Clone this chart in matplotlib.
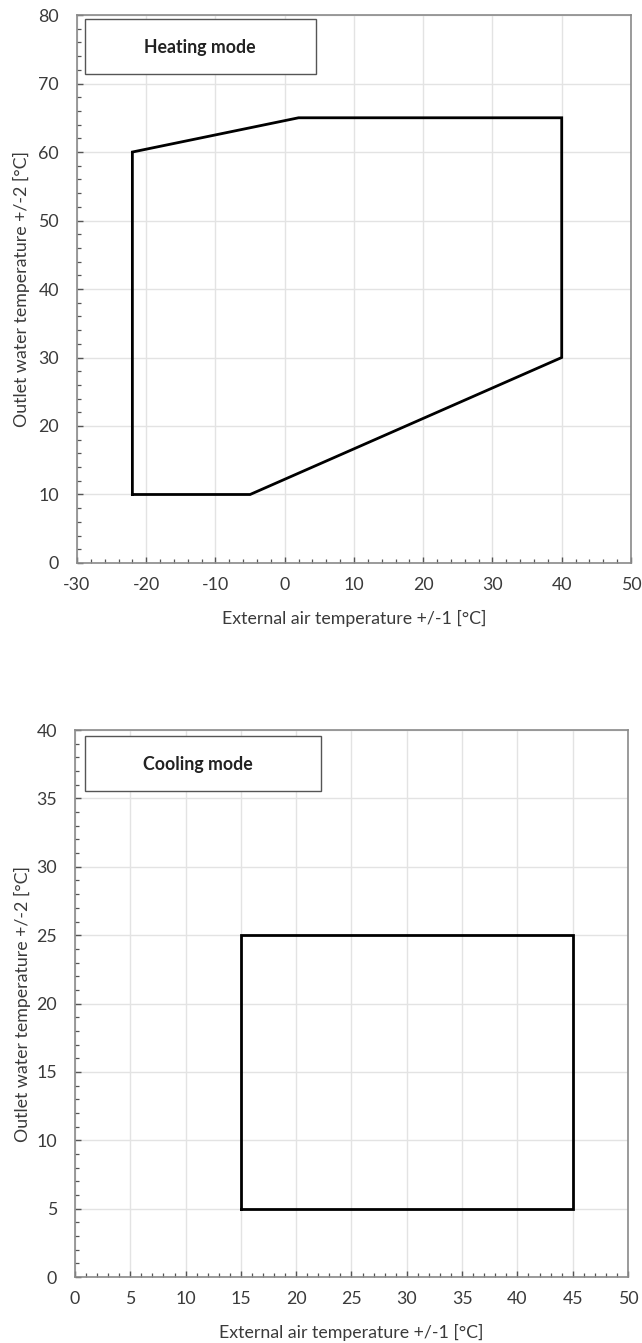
import matplotlib
matplotlib.use("Agg")

import matplotlib.pyplot as plt
from matplotlib.patches import Rectangle
from matplotlib.ticker import MultipleLocator

plt.rcParams["font.family"] = ["Lato", "DejaVu Sans"]
plt.rcParams["axes.unicode_minus"] = False

# heating envelope (external air temp, outlet water temp)
heat_x = [-22, -22, 2, 40, 40, -5, -22]
heat_y = [10, 60, 65, 65, 30, 10, 10]

# cooling envelope
cool_x = [15, 15, 45, 45, 15]
cool_y = [5, 25, 25, 5, 5]

XLABEL = "External air temperature +/-1 [°C]"
YLABEL = "Outlet water temperature +/-2 [°C]"

SPINE = "#8a8a8a"
TXT = "#3a3a3a"
FS = 12.8


def style_axes(ax, xlim, ylim, xmaj, ymaj):
    ax.set_xlim(*xlim)
    ax.set_ylim(*ylim)
    ax.xaxis.set_major_locator(MultipleLocator(xmaj))
    ax.yaxis.set_major_locator(MultipleLocator(ymaj))
    ax.xaxis.set_minor_locator(MultipleLocator(xmaj / 5))
    ax.yaxis.set_minor_locator(MultipleLocator(ymaj / 5))
    ax.grid(True, which="major", color="#e3e3e3", linewidth=1.0)
    ax.set_axisbelow(True)
    for s in ax.spines.values():
        s.set_color(SPINE)
        s.set_linewidth(1.2)
    ax.tick_params(which="both", direction="in", color="#555555", labelcolor=TXT,
                   labelsize=FS, top=False, right=False)
    ax.tick_params(which="major", length=4.5, width=1.0)
    ax.tick_params(which="minor", length=3, width=0.9)
    ax.tick_params(axis="y", pad=13)
    ax.tick_params(axis="x", pad=10)
    ax.set_xlabel(XLABEL, fontsize=FS, color=TXT, va="center")
    ax.set_ylabel(YLABEL, fontsize=FS, color=TXT, va="center")


fig = plt.figure(figsize=(6.42, 13.43), dpi=100)

# ----- heating -----
ax1 = fig.add_axes([0.1199, 0.5808, 0.8629, 0.4080])
style_axes(ax1, (-30, 50), (0, 80), 10, 10)
ax1.plot(heat_x, heat_y, color="black", linewidth=2.0, solid_joinstyle="miter")
ax1.add_patch(Rectangle((-28.8, 71.4), 33.3, 8.0, facecolor="white",
                        edgecolor="#555555", linewidth=1.0, zorder=3))
ax1.text(-12.2, 75.3, "Heating mode", ha="center", va="center",
         fontsize=FS, fontweight="bold", color="#222222", zorder=4)
ax1.xaxis.set_label_coords(0.5, -0.1004)
ax1.yaxis.set_label_coords(-0.0993, 0.5)

# ----- cooling -----
ax2 = fig.add_axes([0.1168, 0.0491, 0.8614, 0.4073])
style_axes(ax2, (0, 50), (0, 40), 5, 5)
ax2.plot(cool_x, cool_y, color="black", linewidth=2.0, solid_joinstyle="miter")
ax2.add_patch(Rectangle((0.9, 35.55), 21.3, 4.0, facecolor="white",
                        edgecolor="#555555", linewidth=1.0, zorder=3))
ax2.text(11.1, 37.45, "Cooling mode", ha="center", va="center",
         fontsize=FS, fontweight="bold", color="#222222", zorder=4)
ax2.xaxis.set_label_coords(0.5, -0.1005)
ax2.yaxis.set_label_coords(-0.0958, 0.5)

fig.savefig("out.png", dpi=100)
plt.close(fig)
